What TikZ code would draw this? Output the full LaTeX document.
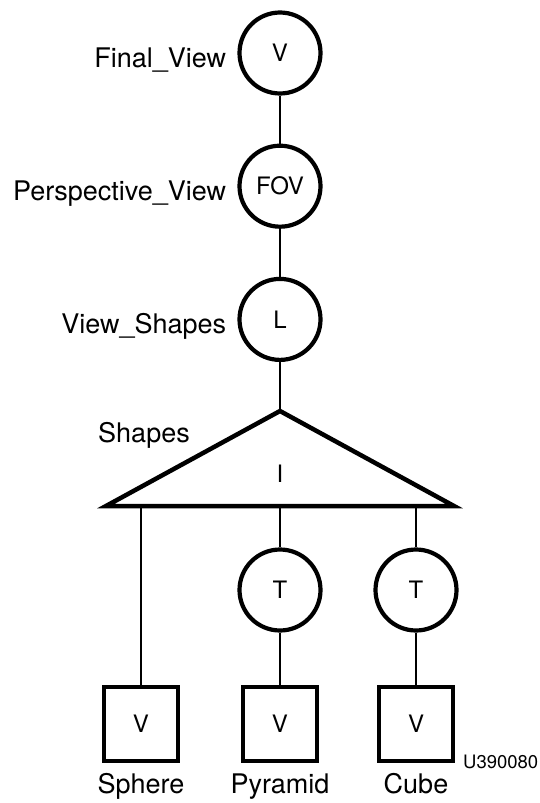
\documentclass[tikz,border=0pt]{standalone}
\usepackage{fontspec}
\setmainfont{TeX Gyre Heros}
\usetikzlibrary{positioning, calc}
\tikzset{
  circ/.style={circle, draw, line width=4.2pt, minimum size=81pt, inner sep=0pt, font=\fontsize{24}{28}\selectfont},
  sqr/.style={rectangle, draw, line width=4.2pt, minimum size=74pt, inner sep=0pt, font=\fontsize{24}{28}\selectfont},
  lbl/.style={inner sep=0pt, text height=19pt, text depth=0pt, font=\fontsize{27}{32}\selectfont},
  con/.style={line width=1.7pt},
  tri/.style={line width=4.5pt, line join=miter}
}
\begin{document}
\begin{tikzpicture}[x=1pt, y=-1pt]
\useasboundingbox (0,0) rectangle (540,803);
% view chain
\node[circ] (fv) at (280,53) {V};
\node[circ, below=48pt of fv] (pv) {FOV};
\node[circ, below=48pt of pv] (vs) {L};
\node[lbl, left=11pt of fv, yshift=-5pt] (fvl) {Final\_View};
\node[lbl, left=11pt of pv, yshift=-5pt] (pvl) {Perspective\_View};
\node[lbl, left=11pt of vs, yshift=-5pt] (vsl) {View\_Shapes};
% instance triangle
\coordinate (apex) at (280,411);
\coordinate (bl) at (106,506);
\coordinate (br) at (454,506);
\draw[tri] (apex) -- (br) -- (bl) -- cycle;
\node[font=\fontsize{24}{28}\selectfont] (inst) at (280,474) {I};
\node[lbl] (shl) at (144,433) {Shapes};
\coordinate (d1) at (141,506);
\coordinate (d2) at (280,506);
\coordinate (d3) at (416,506);
% transforms and leaves
\node[circ] (t1) at (280,590) {T};
\node[circ] (t2) at (416,590) {T};
\node[sqr] (sph) at (141,724) {V};
\node[sqr] (pyr) at (280,724) {V};
\node[sqr] (cub) at (416,724) {V};
\node[lbl, below=11pt of sph] (sphl) {Sphere};
\node[lbl, below=11pt of pyr] (pyrl) {Pyramid};
\node[lbl, below=11pt of cub] (cubl) {Cube};
\node[anchor=base west, inner sep=0pt, font=\fontsize{18.5}{22}\selectfont] (code) at (463,768) {U390080};
% connectors
\draw[con] (fv) -- (pv);
\draw[con] (pv) -- (vs);
\draw[con] (vs) -- (apex);
\draw[con] (d1) -- (sph);
\draw[con] (d2) -- (t1);
\draw[con] (d3) -- (t2);
\draw[con] (t1) -- (pyr);
\draw[con] (t2) -- (cub);
\end{tikzpicture}
\end{document}
